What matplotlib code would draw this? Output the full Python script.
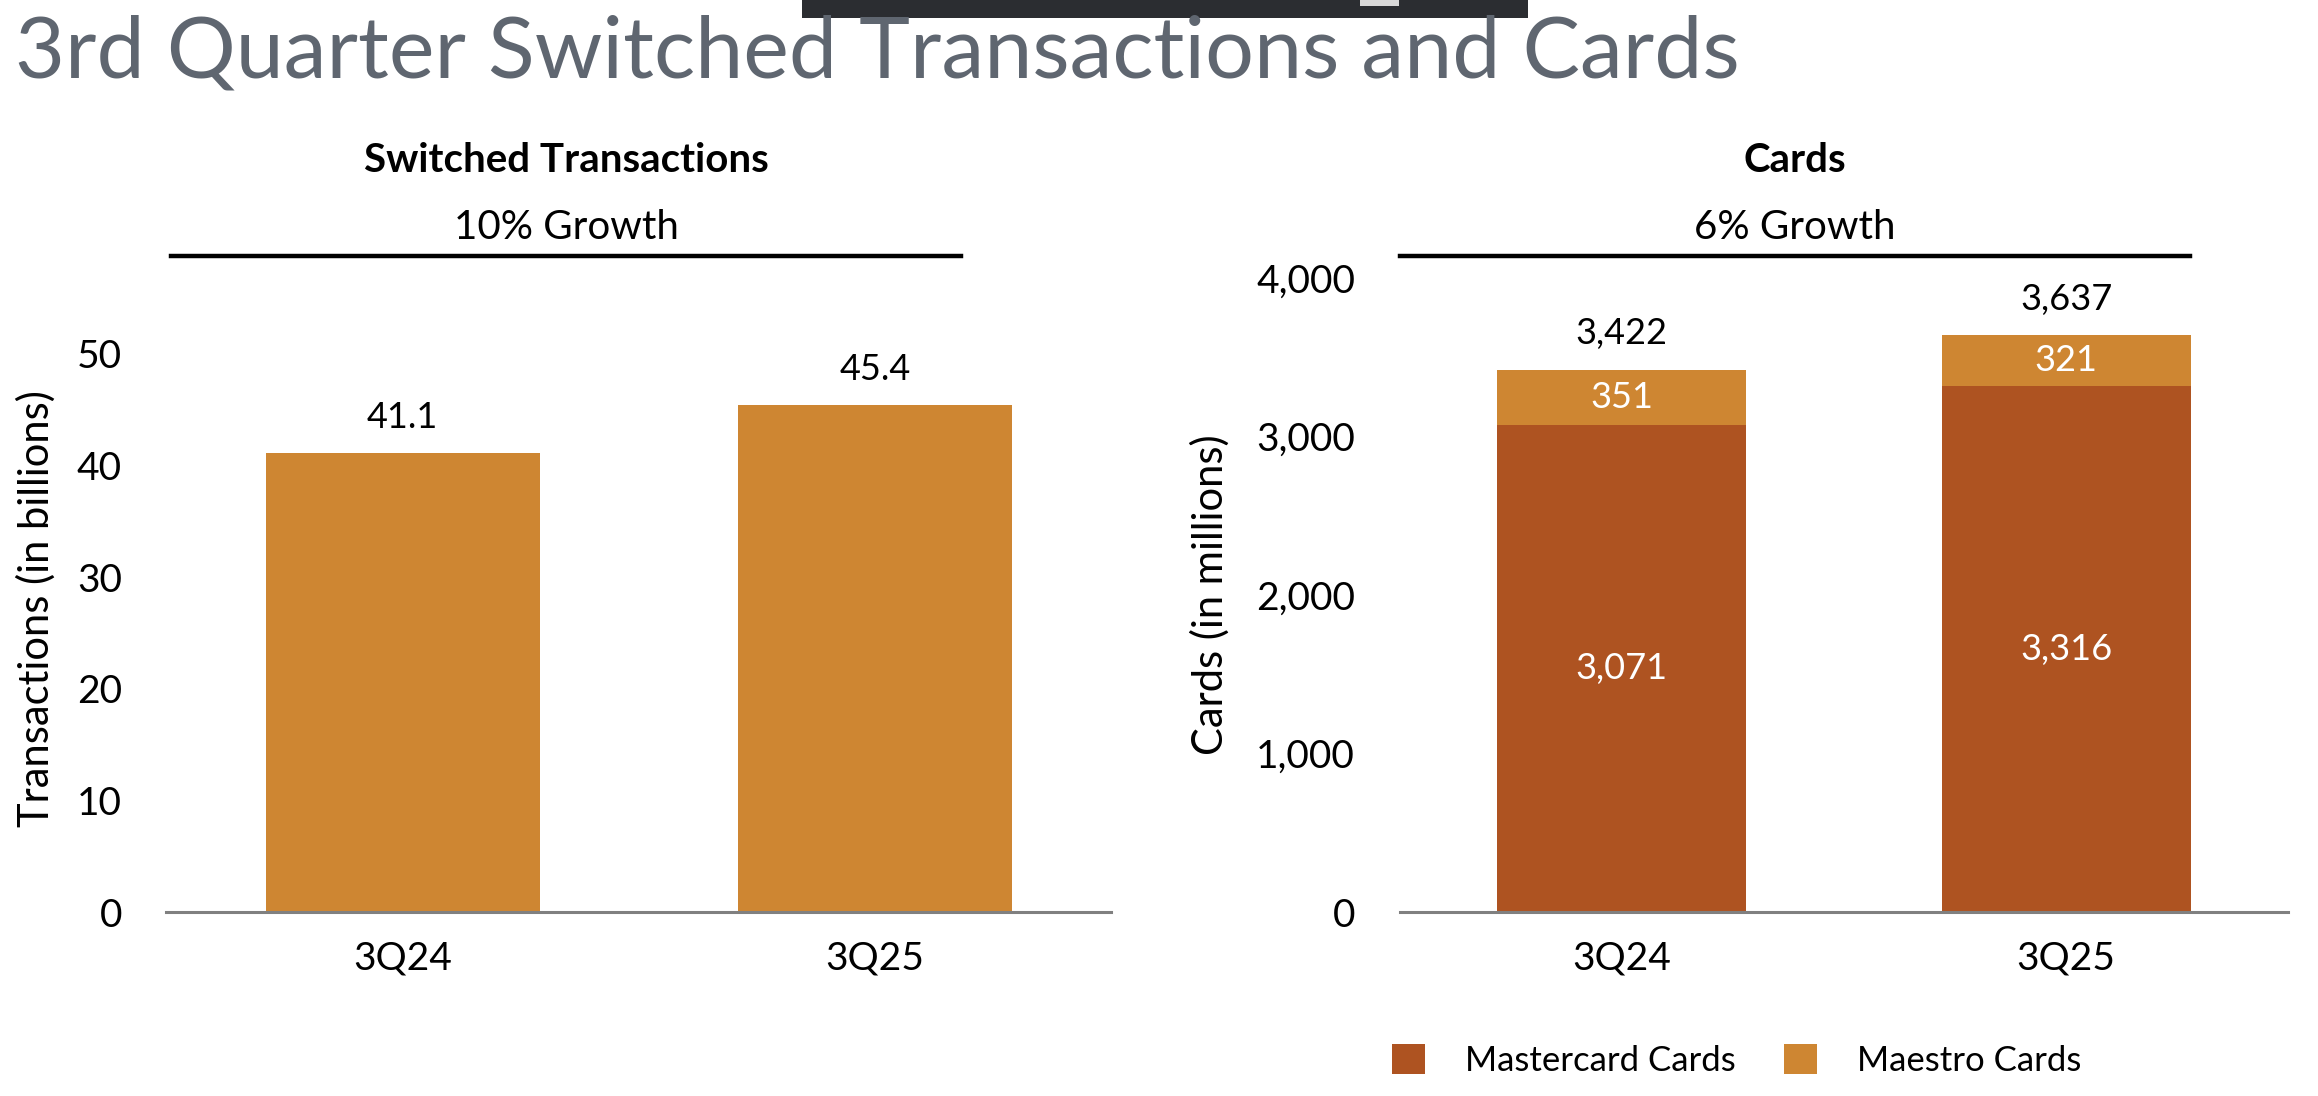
import matplotlib
matplotlib.use("Agg")
import matplotlib.pyplot as plt
from matplotlib.patches import Rectangle

plt.rcParams['font.family'] = ['Lato', 'DejaVu Sans']

quarters = ['3Q24', '3Q25']
transactions = [41.1, 45.4]
mastercard_cards = [3071, 3316]
maestro_cards = [351, 321]
transactions_growth = '10% Growth'
cards_growth = '6% Growth'

light = '#CE8632'
dark = '#AE5321'
axis_gray = '#808080'

fig = plt.figure(figsize=(11.59, 5.48), dpi=200)

# screenshot bar at the very top
fig.patches.append(Rectangle((0.346, 0.9837), 0.313, 0.0163, transform=fig.transFigure,
                             facecolor='#2b2d31', edgecolor='none'))
fig.patches.append(Rectangle((0.5865, 0.9945), 0.017, 0.0055, transform=fig.transFigure,
                             facecolor='#d8d8d8', edgecolor='none'))

fig.text(0.0064, 0.9295, '3rd Quarter Switched Transactions and Cards', fontsize=31,
         color='#5f6670', fontweight='normal', va='baseline', ha='left')


def style_axis(ax):
    for s in ['top', 'right', 'left']:
        ax.spines[s].set_visible(False)
    ax.spines['bottom'].set_color(axis_gray)
    ax.spines['bottom'].set_linewidth(1.1)
    ax.tick_params(axis='both', length=0, labelsize=14)
    ax.tick_params(axis='y', pad=16)
    ax.tick_params(axis='x', pad=10)
    ax.set_xlim(-0.5, 1.5)


def header(xc, x0, x1, title, growth):
    fig.text(xc, 0.8536, title, fontsize=14.5, fontweight='bold', ha='center', va='center')
    fig.text(xc, 0.7926, growth, fontsize=14.5, ha='center', va='center')
    fig.add_artist(plt.Line2D([x0, x1], [0.7668, 0.7668], color='black', lw=1.6,
                              transform=fig.transFigure))


# left: switched transactions
ax1 = fig.add_axes([0.0718, 0.1676, 0.4077, 0.5097])
bars = ax1.bar(quarters, transactions, width=0.58, color=light)
ax1.set_ylim(0, 50)
ax1.set_yticks([0, 10, 20, 30, 40, 50])
style_axis(ax1)
ax1.set_ylabel('Transactions (in billions)', fontsize=15)
ax1.yaxis.set_label_coords(-0.117, 0.543)
for b, v in zip(bars, transactions):
    ax1.annotate(f'{v:.1f}', (b.get_x() + b.get_width() / 2, v), xytext=(0, 7),
                 textcoords='offset points', ha='center', va='bottom', fontsize=13,
                 annotation_clip=False)
header(0.2442, 0.0737, 0.4147, 'Switched Transactions', transactions_growth)

# right: cards
ax2 = fig.add_axes([0.6038, 0.1676, 0.3834, 0.5789])
b_mc = ax2.bar(quarters, mastercard_cards, width=0.56, color=dark, label='Mastercard Cards')
b_ma = ax2.bar(quarters, maestro_cards, width=0.56, bottom=mastercard_cards, color=light,
               label='Maestro Cards')
ax2.set_ylim(0, 4000)
ax2.set_yticks([0, 1000, 2000, 3000, 4000])
ax2.set_yticklabels([f'{t:,}' for t in [0, 1000, 2000, 3000, 4000]])
style_axis(ax2)
ax2.set_ylabel('Cards (in millions)', fontsize=15)
ax2.yaxis.set_label_coords(-0.191, 0.50)
for i, (mc, ma) in enumerate(zip(mastercard_cards, maestro_cards)):
    ax2.text(i, mc / 2, f'{mc:,}', color='white', ha='center', va='center', fontsize=13)
    ax2.text(i, mc + ma / 2, f'{ma:,}', color='white', ha='center', va='center', fontsize=13)
    ax2.annotate(f'{mc + ma:,}', (i, mc + ma), xytext=(0, 7), textcoords='offset points',
                 ha='center', va='bottom', fontsize=13, annotation_clip=False)
header(0.7744, 0.6038, 0.9449, 'Cards', cards_growth)

ax2.legend(handles=[b_mc, b_ma], loc='center left', bbox_to_anchor=(0.587, 0.032),
           bbox_transform=fig.transFigure, ncol=2, frameon=False, fontsize=12.5,
           handlelength=0.95, handleheight=0.95, handletextpad=1.15, columnspacing=1.4)

fig.savefig('out.png', dpi=200, facecolor='white')
